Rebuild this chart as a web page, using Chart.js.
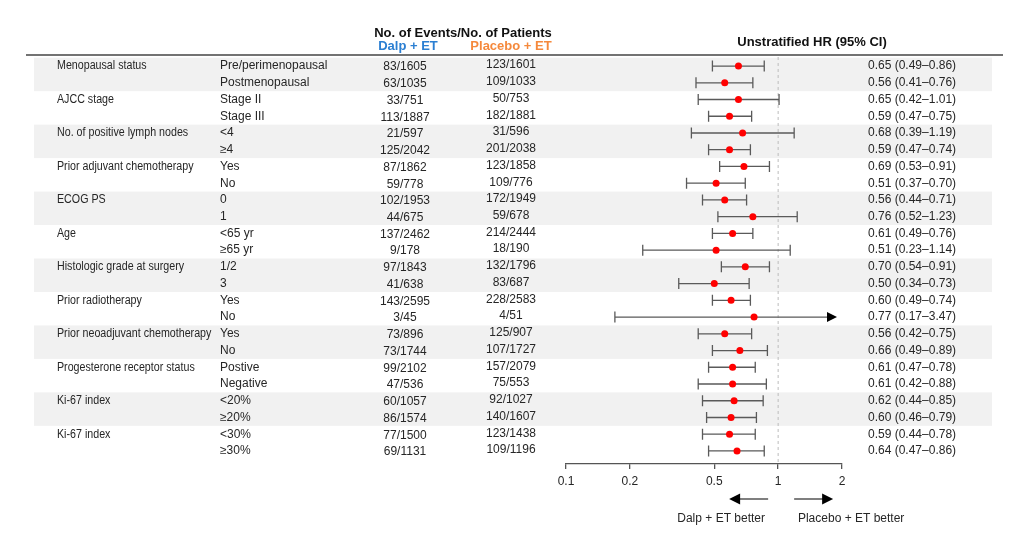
<!DOCTYPE html>
<html>
<head>
<meta charset="utf-8">
<script src="https://cdn.jsdelivr.net/npm/chart.js@4/dist/chart.umd.min.js"></script>
<style>
html,body{margin:0;padding:0;background:#fff;}
canvas{display:block;}
</style>
</head>
<body>
<canvas id="c" width="1016" height="536"></canvas>
<script>
const categories = ["Menopausal status","AJCC stage","No. of positive lymph nodes","Prior adjuvant chemotherapy","ECOG PS","Age","Histologic grade at surgery","Prior radiotherapy","Prior neoadjuvant chemotherapy","Progesterone receptor status","Ki-67 index","Ki-67 index"];
const subgroups = ["Pre/perimenopausal","Postmenopausal","Stage II","Stage III","<4","≥4","Yes","No","0","1","<65 yr","≥65 yr","1/2","3","Yes","No","Yes","No","Postive","Negative","<20%","≥20%","<30%","≥30%"];
const dalpEvents = ["83/1605","63/1035","33/751","113/1887","21/597","125/2042","87/1862","59/778","102/1953","44/675","137/2462","9/178","97/1843","41/638","143/2595","3/45","73/896","73/1744","99/2102","47/536","60/1057","86/1574","77/1500","69/1131"];
const placeboEvents = ["123/1601","109/1033","50/753","182/1881","31/596","201/2038","123/1858","109/776","172/1949","59/678","214/2444","18/190","132/1796","83/687","228/2583","4/51","125/907","107/1727","157/2079","75/553","92/1027","140/1607","123/1438","109/1196"];
const hr = [0.65,0.56,0.65,0.59,0.68,0.59,0.69,0.51,0.56,0.76,0.61,0.51,0.70,0.50,0.60,0.77,0.56,0.66,0.61,0.61,0.62,0.60,0.59,0.64];
const ciLow = [0.49,0.41,0.42,0.47,0.39,0.47,0.53,0.37,0.44,0.52,0.49,0.23,0.54,0.34,0.49,0.17,0.42,0.49,0.47,0.42,0.44,0.46,0.44,0.47];
const ciHigh = [0.86,0.76,1.01,0.75,1.19,0.74,0.91,0.70,0.71,1.23,0.76,1.14,0.91,0.73,0.74,3.47,0.75,0.89,0.78,0.88,0.85,0.79,0.78,0.86];
const tickValues = [0.1,0.2,0.5,1,2];
const tickLabels = ["0.1","0.2","0.5","1","2"];

const FONT = '"Liberation Sans", Arial, Helvetica, sans-serif';
const TEXT = '#262626';
const X_MIN = 0.1, X_MAX = 2;

function fmt(v){ return v.toFixed(2); }

const forestPlugin = {
  id: 'forest',
  beforeDatasetsDraw(chart){
    const ctx = chart.ctx, xs = chart.scales.x, ys = chart.scales.y, ca = chart.chartArea;
    ctx.save();
    // bands
    ctx.fillStyle = '#f1f1f1';
    for (let g = 0; g < categories.length; g += 2){
      const t = ys.getPixelForValue(2*g - 0.5);
      const b = ys.getPixelForValue(2*g + 1.5);
      ctx.fillRect(34, t, 992-34, b - t);
    }
    // header rule
    ctx.strokeStyle = '#444';
    ctx.lineWidth = 1.3;
    ctx.beginPath();
    ctx.moveTo(26, ca.top); ctx.lineTo(1003, ca.top);
    ctx.stroke();
    // reference dashed line at HR=1
    const x1 = xs.getPixelForValue(1);
    ctx.strokeStyle = '#bdbdbd';
    ctx.lineWidth = 1;
    ctx.setLineDash([3,3]);
    ctx.beginPath();
    ctx.moveTo(x1, ca.top + 2); ctx.lineTo(x1, ca.bottom - 2);
    ctx.stroke();
    ctx.setLineDash([]);
    // CI bars
    ctx.strokeStyle = '#5a5a5a';
    ctx.fillStyle = '#000';
    ctx.lineWidth = 1.3;
    for (let i = 0; i < hr.length; i++){
      const y = ys.getPixelForValue(i);
      const xl = xs.getPixelForValue(Math.max(ciLow[i], X_MIN));
      if (ciHigh[i] > X_MAX){
        const tip = xs.getPixelForValue(X_MAX) - 5;
        ctx.beginPath();
        ctx.moveTo(xl, y); ctx.lineTo(tip - 8, y);
        ctx.moveTo(xl, y - 5.5); ctx.lineTo(xl, y + 5.5);
        ctx.stroke();
        ctx.beginPath();
        ctx.moveTo(tip, y); ctx.lineTo(tip - 10, y - 5); ctx.lineTo(tip - 10, y + 5); ctx.closePath();
        ctx.fill();
      } else {
        const xh = xs.getPixelForValue(ciHigh[i]);
        ctx.beginPath();
        ctx.moveTo(xl, y); ctx.lineTo(xh, y);
        ctx.moveTo(xl, y - 5.5); ctx.lineTo(xl, y + 5.5);
        ctx.moveTo(xh, y - 5.5); ctx.lineTo(xh, y + 5.5);
        ctx.stroke();
      }
    }
    ctx.restore();
  },
  afterDraw(chart){
    const ctx = chart.ctx, xs = chart.scales.x, ys = chart.scales.y;
    ctx.save();
    ctx.textBaseline = 'middle';
    // headers
    ctx.font = 'bold 13px ' + FONT;
    ctx.textAlign = 'center';
    ctx.fillStyle = '#111';
    ctx.fillText('No. of Events/No. of Patients', 463, 33);
    ctx.fillText('Unstratified HR (95% CI)', 812, 42);
    ctx.fillStyle = '#2b7fd2';
    ctx.fillText('Dalp + ET', 408, 46);
    ctx.fillStyle = '#f5893c';
    ctx.fillText('Placebo + ET', 511, 46);
    // category labels (slightly condensed)
    ctx.font = '12px ' + FONT;
    ctx.fillStyle = TEXT;
    ctx.textAlign = 'left';
    for (let g = 0; g < categories.length; g++){
      ctx.save();
      ctx.translate(57, ys.getPixelForValue(2*g));
      ctx.scale(0.89, 1);
      ctx.fillText(categories[g], 0, 0);
      ctx.restore();
    }
    // rows
    ctx.font = '12px ' + FONT;
    for (let i = 0; i < subgroups.length; i++){
      const y = ys.getPixelForValue(i);
      ctx.textAlign = 'left';
      ctx.fillText(subgroups[i], 220, y);
      ctx.textAlign = 'center';
      ctx.fillText(dalpEvents[i], 405, y + 1);
      ctx.fillText(placeboEvents[i], 511, y - 1);
      ctx.textAlign = 'left';
      ctx.fillText(fmt(hr[i]) + ' (' + fmt(ciLow[i]) + '–' + fmt(ciHigh[i]) + ')', 868, y);
    }
    // direction arrows
    const x1 = xs.getPixelForValue(1);
    const ay = 499;
    ctx.strokeStyle = '#555';
    ctx.fillStyle = '#000';
    ctx.lineWidth = 1.3;
    ctx.beginPath();
    ctx.moveTo(x1 - 10, ay); ctx.lineTo(x1 - 40, ay);
    ctx.moveTo(x1 + 16, ay); ctx.lineTo(x1 + 46, ay);
    ctx.stroke();
    ctx.beginPath();
    ctx.moveTo(x1 - 49, ay); ctx.lineTo(x1 - 38, ay - 5.5); ctx.lineTo(x1 - 38, ay + 5.5); ctx.closePath(); ctx.fill();
    ctx.beginPath();
    ctx.moveTo(x1 + 55, ay); ctx.lineTo(x1 + 44, ay - 5.5); ctx.lineTo(x1 + 44, ay + 5.5); ctx.closePath(); ctx.fill();
    ctx.fillStyle = TEXT;
    ctx.font = '12px ' + FONT;
    ctx.textAlign = 'center';
    ctx.fillText('Dalp + ET better', x1 - 57, 519);
    ctx.fillText('Placebo + ET better', x1 + 73, 519);
    ctx.restore();
  }
};

new Chart(document.getElementById('c'), {
  type: 'scatter',
  data: {
    datasets: [{
      data: hr.map((v, i) => ({x: v, y: i})),
      pointRadius: 3.5,
      pointBackgroundColor: '#ff0000',
      pointBorderColor: '#ff0000',
      pointBorderWidth: 0,
      showLine: false
    }]
  },
  options: {
    responsive: false,
    animation: false,
    events: [],
    layout: { padding: { left: 566, right: 174, top: 55, bottom: 32 } },
    plugins: { legend: { display: false }, tooltip: { enabled: false } },
    scales: {
      x: {
        type: 'logarithmic',
        min: X_MIN,
        max: X_MAX,
        position: 'bottom',
        afterBuildTicks: (s) => { s.ticks = tickValues.map(v => ({value: v})); },
        afterFit: (s) => { s.height = 40; },
        grid: { drawOnChartArea: false, drawTicks: true, tickLength: 5, color: '#555', lineWidth: 1.3 },
        border: { display: true, color: '#555', width: 1.3 },
        ticks: {
          autoSkip: false,
          maxRotation: 0,
          padding: 5,
          color: TEXT,
          font: { family: FONT, size: 12 },
          callback: (v) => { const k = tickValues.indexOf(v); return k >= 0 ? tickLabels[k] : ''; }
        }
      },
      y: {
        type: 'linear',
        min: -0.66,
        max: 23.78,
        reverse: true,
        display: false
      }
    }
  },
  plugins: [forestPlugin]
});
</script>
</body>
</html>
